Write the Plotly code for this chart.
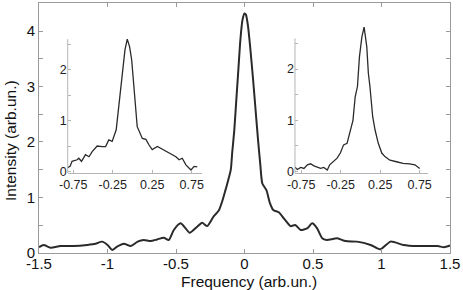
import plotly.graph_objects as go

# Main spectrum
main_x = [-1.5, -1.465, -1.416, -1.343, -1.246, -1.148, -1.088, -1.04, -1.0, -0.966, -0.93, -0.88,
          -0.83, -0.78, -0.735, -0.686, -0.637, -0.589, -0.553, -0.516, -0.467, -0.43, -0.4, -0.345,
          -0.309, -0.272, -0.224, -0.188, -0.16, -0.139, -0.12, -0.1, -0.09, -0.075, -0.06, -0.045,
          -0.03, -0.015, 0.0, 0.01, 0.025, 0.04, 0.06, 0.08, 0.1, 0.115, 0.13, 0.16, 0.185, 0.21,
          0.25, 0.287, 0.336, 0.37, 0.41, 0.457, 0.494, 0.53, 0.567, 0.6, 0.677, 0.737, 0.82, 0.92,
          0.99, 1.066, 1.16, 1.26, 1.41, 1.455, 1.5]
main_y = [0.1, 0.14, 0.09, 0.12, 0.12, 0.14, 0.16, 0.2, 0.14, 0.05, 0.11, 0.16,
          0.12, 0.2, 0.23, 0.21, 0.24, 0.27, 0.23, 0.41, 0.53, 0.44, 0.36, 0.47,
          0.54, 0.48, 0.66, 0.76, 0.95, 1.13, 1.3, 1.5, 1.8, 2.2, 2.75, 3.3,
          3.85, 4.2, 4.32, 4.3, 4.1, 3.75, 3.2, 2.6, 2.0, 1.6, 1.25, 1.13, 0.9, 0.77,
          0.73, 0.62, 0.48, 0.5, 0.41, 0.44, 0.53, 0.44, 0.26, 0.23, 0.26, 0.21, 0.2, 0.14,
          0.06, 0.2, 0.14, 0.12, 0.12, 0.1, 0.13]

# Left inset
left_x = [-0.83, -0.79, -0.765, -0.70, -0.68, -0.645, -0.595, -0.55, -0.51, -0.447, -0.384, -0.34,
          -0.3, -0.257, -0.206, -0.17, -0.13, -0.095, -0.066, -0.036, -0.01, 0.02, 0.06, 0.125,
          0.17, 0.21, 0.25, 0.315, 0.38, 0.46, 0.55, 0.59, 0.63, 0.676, 0.74, 0.78, 0.82]
left_y = [0.07, 0.1, 0.2, 0.23, 0.26, 0.2, 0.33, 0.29, 0.39, 0.5, 0.49, 0.49,
          0.62, 0.59, 0.82, 1.34, 1.93, 2.39, 2.6, 2.45, 2.19, 1.67, 0.88, 0.65,
          0.63, 0.52, 0.43, 0.49, 0.43, 0.36, 0.29, 0.23, 0.26, 0.13, 0.03, 0.1, 0.09]

# Right inset
right_x = [-0.834, -0.8, -0.757, -0.716, -0.673, -0.632, -0.59, -0.548, -0.506, -0.465, -0.42, -0.39,
           -0.34, -0.296, -0.255, -0.214, -0.17, -0.13, -0.095, -0.067, -0.038, -0.013, 0.018, 0.046,
           0.08, 0.1, 0.12, 0.155, 0.185, 0.226, 0.27, 0.31, 0.373, 0.457, 0.54, 0.62, 0.69, 0.75]
right_y = [0.09, 0.04, 0.08, 0.06, 0.13, 0.15, 0.11, 0.09, 0.06, 0.08, 0.03, 0.13,
           0.19, 0.26, 0.36, 0.52, 0.55, 0.81, 1.0, 1.46, 1.66, 2.24, 2.63, 2.82,
           2.44, 1.92, 1.66, 1.07, 0.81, 0.55, 0.36, 0.29, 0.22, 0.19, 0.16, 0.15, 0.13, 0.06]

main_xticks = [-1.5, -1, -0.5, 0, 0.5, 1, 1.5]
main_xlabels = ["-1.5", "-1", "-0.5", "0", "0.5", "1", "1.5"]
main_yticks = [0, 0.5, 1, 1.5, 2, 2.5, 3, 3.5, 4, 4.5]
main_ylabels = ["0", "", "1", "", "2", "", "3", "", "4", ""]
inset_xticks = [-0.75, -0.25, 0.25, 0.75]
inset_xlabels = ["-0.75", "-0.25", "0.25", "0.75"]
inset_yticks = [0, 0.5, 1, 1.5, 2, 2.5]
inset_ylabels = ["0", "", "1", "", "2", ""]

FONT = "Liberation Sans, Arial, sans-serif"
line_col = "#2a2a2a"
inset_line = "#b5b5b5"

fig = go.Figure()
fig.add_trace(go.Scatter(x=main_x, y=main_y, mode="lines",
                         line=dict(color=line_col, width=2, shape="spline", smoothing=0.6),
                         xaxis="x", yaxis="y", showlegend=False))
fig.add_trace(go.Scatter(x=left_x, y=left_y, mode="lines", line=dict(color=line_col, width=1.3),
                         xaxis="x2", yaxis="y2", showlegend=False))
fig.add_trace(go.Scatter(x=right_x, y=right_y, mode="lines", line=dict(color=line_col, width=1.3),
                         xaxis="x3", yaxis="y3", showlegend=False))

main_axis = dict(showgrid=False, zeroline=False, showline=True, linecolor="#9a9a9a", linewidth=1,
                 mirror="ticks", ticks="inside", ticklen=4, tickcolor="#9a9a9a", automargin=False,
                 tickfont=dict(family=FONT, size=15, color="#111"))
inset_axis = dict(showgrid=False, zeroline=False, showline=True, linecolor=inset_line, linewidth=1,
                  ticks="inside", ticklen=3, tickcolor=inset_line, automargin=False,
                  tickfont=dict(family=FONT, size=12.5, color="#222"))

fig.update_layout(
    template="none",
    width=463, height=290,
    margin=dict(l=0, r=0, t=0, b=0, autoexpand=False),
    paper_bgcolor="white", plot_bgcolor="rgba(0,0,0,0)",
    xaxis=dict(main_axis, domain=[0.0842, 0.972], range=[-1.5, 1.5], ticklabelstandoff=-3,
               tickmode="array", tickvals=main_xticks, ticktext=main_xlabels),
    yaxis=dict(main_axis, domain=[0.1286, 0.988], range=[0, 4.5],
               tickmode="array", tickvals=main_yticks, ticktext=main_ylabels),
    xaxis2=dict(inset_axis, domain=[0.1462, 0.4363], range=[-0.82, 0.88], anchor="y2",
                tickmode="array", tickvals=inset_xticks, ticktext=inset_xlabels),
    yaxis2=dict(inset_axis, domain=[0.4034, 0.8738], range=[-0.03, 2.65], anchor="x2", showline=False,
                tickmode="array", tickvals=inset_yticks, ticktext=inset_ylabels),
    xaxis3=dict(inset_axis, domain=[0.6371, 0.9251], range=[-0.83, 0.86], anchor="y3",
                tickmode="array", tickvals=inset_xticks, ticktext=inset_xlabels),
    yaxis3=dict(inset_axis, domain=[0.4034, 0.9134], range=[-0.03, 2.86], anchor="x3", showline=False,
                tickmode="array", tickvals=inset_yticks, ticktext=inset_ylabels),
    shapes=[
        dict(type="line", xref="x2 domain", yref="y2", x0=0, x1=0, y0=-0.03, y1=2.6,
             line=dict(color=inset_line, width=1)),
        dict(type="line", xref="x3 domain", yref="y3", x0=0, x1=0, y0=-0.03, y1=2.6,
             line=dict(color=inset_line, width=1)),
    ],
    annotations=[
        dict(text="Frequency (arb.un.)", x=249 / 463, y=(290 - 281.5) / 290, xref="paper", yref="paper",
             showarrow=False, xanchor="center", yanchor="middle", font=dict(family=FONT, size=15.5, color="#111")),
        dict(text="Intensity (arb.un.)", x=10 / 463, y=(290 - 141) / 290, xref="paper", yref="paper",
             showarrow=False, xanchor="center", yanchor="middle", textangle=-90,
             font=dict(family=FONT, size=15.5, color="#111")),
    ],
)

fig.write_html("out.html")
